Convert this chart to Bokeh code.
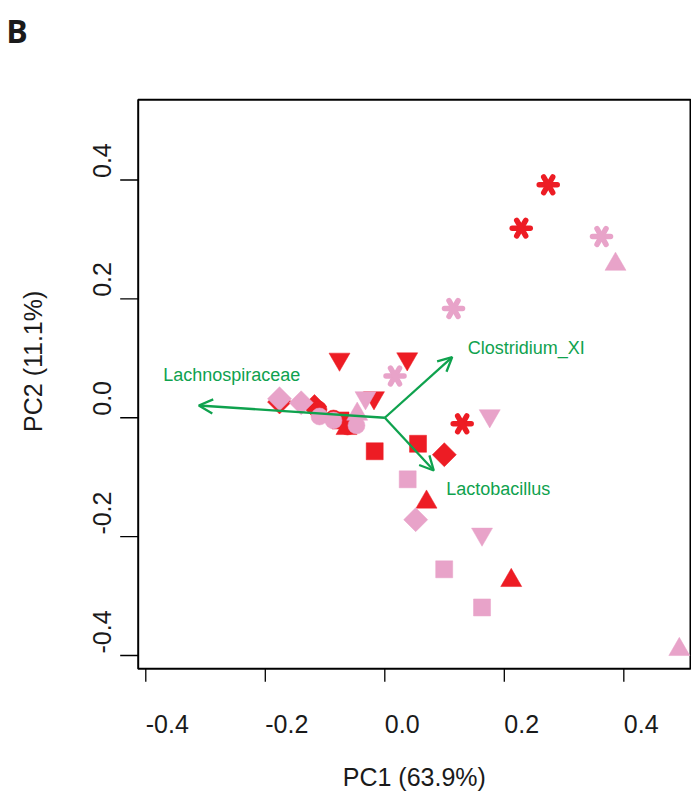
import math
from bokeh.plotting import figure
from bokeh.models import Range1d, ColumnDataSource, Arrow, OpenHead
from bokeh.embed import file_html
from bokeh.resources import INLINE
from bokeh.core.properties import value

# ---------------- data ----------------
shapes = ["asterisk", "asterisk", "asterisk",
          "tri_down", "tri_down", "tri_down",
          "tri_up", "tri_up", "tri_up",
          "square", "square", "square",
          "diamond", "diamond", "diamond",
          "circle", "circle", "circle"]

red_pc1 = [0.2735, 0.2283, 0.1295,
           -0.0758, 0.0375, -0.0181,
           0.0698, 0.2116, -0.0641,
           0.0556, -0.0169, -0.0741,
           0.0996, -0.1762, -0.1177,
           -0.1110, -0.0859, -0.0624]
red_pc2 = [0.3919, 0.3189, -0.0102,
           0.0985, 0.0990, 0.0336,
           -0.1419, -0.2738, -0.0181,
           -0.0438, -0.0564, -0.0046,
           -0.0622, 0.0265, 0.0189,
           0.0139, -0.0013, -0.0147]

pink_pc1 = [0.3627, 0.1150, 0.0171,
            -0.0323, 0.1756, 0.1627,
            0.3861, 0.4929, -0.0462,
            0.0383, 0.0994, 0.1627,
            -0.1762, -0.1399, 0.0517,
            -0.1093, -0.0859, -0.0474]
pink_pc2 = [0.3049, 0.1838, 0.0702,
            0.0336, 0.0033, -0.1959,
            0.2582, -0.3899, 0.0060,
            -0.1036, -0.2550, -0.3192,
            0.0319, 0.0252, -0.1715,
            0.0021, -0.0046, -0.0130]

taxa = ["Lachnospiraceae", "Clostridium_XI", "Lactobacillus"]
load_pc1 = [-0.3113, 0.1128, 0.0820]
load_pc2 = [0.0206, 0.1019, -0.0887]
label_pc1 = [-0.3709, 0.1389, 0.1028]
label_pc2 = [0.0711, 0.1165, -0.1199]

tick_values = [-0.4, -0.2, 0.0, 0.2, 0.4]
tick_labels = ["-0.4", "-0.2", "0.0", "0.2", "0.4"]
x_title = "PC1 (63.9%)"
y_title = "PC2 (11.1%)"
panel_letter = "B"

# ---------------- layout / style ----------------
W, H = 691, 792
F_LEFT, F_RIGHT, F_TOP, F_BOTTOM = 137.7, 690.0, 99.3, 668.3   # plot box in pixels
X0, X1 = -0.4127, 0.5116      # data extent of the plot box
Y0, Y1 = -0.4224, 0.5349
sx = (X1 - X0) / (F_RIGHT - F_LEFT)
sy = (Y1 - Y0) / (F_BOTTOM - F_TOP)
x_range = Range1d(X0 - F_LEFT * sx, X1 + (W - F_RIGHT) * sx)
y_range = Range1d(Y0 - (H - F_BOTTOM) * sy, Y1 + F_TOP * sy)

RED = "#ED1C24"
PINK = "#E8A3C9"
GREEN = "#0FA24E"
INK = "#1a1a1a"
FONT = "Liberation Sans"

p = figure(width=W, height=H, output_backend="svg", toolbar_location=None,
           x_range=x_range, y_range=y_range,
           x_axis_location=None, y_axis_location=None, min_border=0)
p.grid.visible = False
p.outline_line_color = None
p.background_fill_color = "white"
p.border_fill_color = "white"

# plot box
p.quad(left=[X0], right=[X1], bottom=[Y0], top=[Y1], fill_color=None,
       line_color="black", line_width=2)

# ticks
p.ray(x=tick_values, y=[Y0] * len(tick_values), length=13, length_units="screen",
      angle=-math.pi / 2, line_color="black", line_width=1.3)
p.ray(x=[X0] * len(tick_values), y=tick_values, length=18, length_units="screen",
      angle=math.pi, line_color="black", line_width=1.3)

# tick labels (start at the tick, as in the reference)
p.text(x=tick_values, y=[Y0] * len(tick_values), text=tick_labels, y_offset=54.7,
       text_align="left", text_baseline="alphabetic", text_font=value(FONT),
       text_font_size="25px", text_color=INK)
p.text(x=[X0] * len(tick_values), y=tick_values, text=tick_labels, x_offset=-36,
       y_offset=-2, angle=math.pi / 2, text_align="left", text_baseline="alphabetic",
       text_font=value(FONT), text_font_size="25px", text_color=INK)

# axis titles and panel letter
p.text(x=[(X0 + X1) / 2], y=[Y0], text=[x_title], y_offset=108, text_align="center",
       text_baseline="middle", text_font=value(FONT), text_font_size="25px",
       text_color=INK)
p.text(x=[X0], y=[(Y0 + Y1) / 2], text=[y_title], x_offset=-105, y_offset=-23,
       angle=math.pi / 2, text_align="center", text_baseline="middle",
       text_font=value(FONT), text_font_size="25px", text_color=INK)
p.text(x=[X0], y=[Y1], text=[panel_letter], x_offset=-132, y_offset=-69,
       text_align="left", text_baseline="alphabetic", text_font=value("Open Sans"),
       text_font_style="bold", text_font_size="32px", text_color=INK)

# ---------------- points ----------------
marker_map = {"tri_down": ("inverted_triangle", 0.0, 21),
              "tri_up": ("triangle", 0.0, 21),
              "square": ("square", 0.0, 17),
              "diamond": ("square", math.pi / 4, 17),
              "circle": ("circle", 0.0, 17)}


def draw(pc1, pc2, color):
    mx, my, mm, ma, ms = [], [], [], [], []
    ax_, ay_ = [], []
    for x, y, s in zip(pc1, pc2, shapes):
        if s == "asterisk":
            ax_.append(x)
            ay_.append(y)
        else:
            m, a, z = marker_map[s]
            mx.append(x); my.append(y); mm.append(m); ma.append(a); ms.append(z)
    src = ColumnDataSource(dict(x=mx, y=my, m=mm, a=ma, s=ms))
    p.scatter(x="x", y="y", marker="m", angle="a", size="s", source=src,
              fill_color=color, line_color=color, line_width=0.5)
    asrc = ColumnDataSource(dict(x=ax_, y=ay_))
    for ang in (0.0, math.pi / 3, 2 * math.pi / 3):
        p.scatter(x="x", y="y", marker="dash", angle=ang, size=18, source=asrc,
                  line_color=color, line_width=5.5, line_cap="round")


draw(red_pc1, red_pc2, RED)
draw(pink_pc1, pink_pc2, PINK)

# ---------------- loadings ----------------
lsrc = ColumnDataSource(dict(x0=[0.0] * len(taxa), y0=[0.0] * len(taxa),
                             x1=load_pc1, y1=load_pc2))
p.add_layout(Arrow(x_start="x0", y_start="y0", x_end="x1", y_end="y1", source=lsrc,
                   line_color=GREEN, line_width=2.3,
                   end=OpenHead(size=14, line_color=GREEN, line_width=2.3)))
tsrc = ColumnDataSource(dict(x=label_pc1, y=label_pc2, t=taxa))
p.text(x="x", y="y", text="t", source=tsrc, text_font=value(FONT),
       text_font_size="18px", text_color=GREEN, text_align="left",
       text_baseline="middle")

open("out.html", "w").write(file_html(p, INLINE))
